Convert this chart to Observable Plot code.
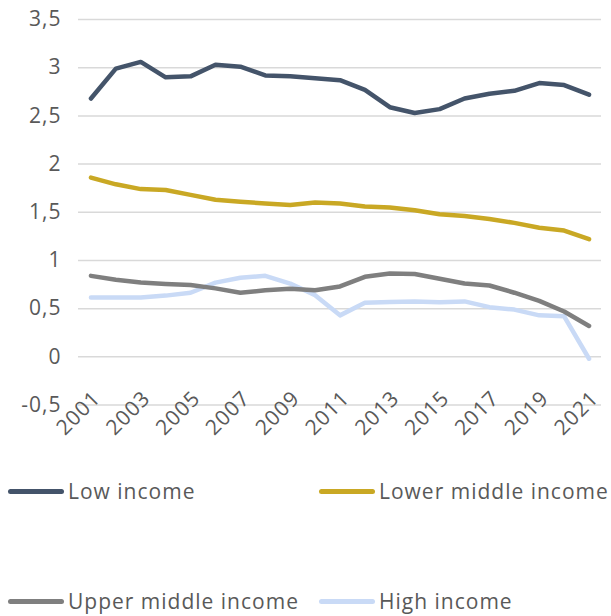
<!DOCTYPE html>
<html>
<head>
<meta charset="utf-8">
<script src="https://cdn.jsdelivr.net/npm/d3@7"></script>
<script src="https://cdn.jsdelivr.net/npm/@observablehq/plot@0.6"></script>
<style>
  html, body { margin: 0; padding: 0; background: #fff; }
  #wrap { position: relative; width: 611px; height: 616px; font-family: "Open Sans", sans-serif; }
  .leg { position: absolute; display: flex; align-items: center; font-size: 21px; letter-spacing: 1px; color: #595959; white-space: nowrap; }
  .sw { width: 56px; height: 5px; border-radius: 3px; margin-right: 4px; }
</style>
</head>
<body>
<div id="wrap"></div>
<script>
const years = d3.range(2001, 2022);
const seriesNames = ["Low income", "Lower middle income", "Upper middle income", "High income"];
const colors = ["#44546A", "#C9A824", "#7F7F7F", "#C9DAF6"];
const lowIncome = [2.68, 2.99, 3.06, 2.90, 2.91, 3.03, 3.01, 2.92, 2.91, 2.89, 2.87, 2.77, 2.59, 2.53, 2.57, 2.68, 2.73, 2.76, 2.84, 2.82, 2.72];
const lowerMiddle = [1.86, 1.79, 1.74, 1.73, 1.68, 1.63, 1.61, 1.59, 1.575, 1.60, 1.59, 1.56, 1.55, 1.52, 1.48, 1.46, 1.43, 1.39, 1.34, 1.31, 1.22];
const upperMiddle = [0.84, 0.80, 0.77, 0.755, 0.745, 0.71, 0.665, 0.69, 0.705, 0.69, 0.73, 0.83, 0.865, 0.86, 0.81, 0.76, 0.74, 0.665, 0.58, 0.47, 0.32];
const highIncome = [0.615, 0.615, 0.615, 0.635, 0.665, 0.77, 0.82, 0.84, 0.76, 0.64, 0.43, 0.56, 0.57, 0.575, 0.565, 0.575, 0.515, 0.49, 0.43, 0.42, -0.02];
const yTicks = [-0.5, 0, 0.5, 1, 1.5, 2, 2.5, 3, 3.5];
const xLabels = [2001, 2003, 2005, 2007, 2009, 2011, 2013, 2015, 2017, 2019, 2021];

const allSeries = [lowIncome, lowerMiddle, upperMiddle, highIncome];
const rows = [];
allSeries.forEach((vals, i) => vals.forEach((v, j) => rows.push({series: seriesNames[i], year: years[j], value: v})));
const drawOrder = ["High income", "Upper middle income", "Lower middle income", "Low income"];

const fmt = v => String(v).replace(".", ",");
const H = 440;
const chart = Plot.plot({
  width: 611,
  height: H,
  marginLeft: 78,
  marginRight: 10,
  marginTop: 19,
  marginBottom: H - 404.5,
  style: {fontFamily: "Open Sans, sans-serif", background: "#fff", letterSpacing: "1px"},
  x: {domain: [2000.5, 2021.5], axis: null},
  y: {domain: [-0.5, 3.5], axis: null},
  color: {domain: seriesNames, range: colors},
  marks: [
    Plot.ruleY(yTicks, {stroke: "#d9d9d9", strokeWidth: 1.5}),
    Plot.axisY(yTicks, {tickSize: 0, tickPadding: 17, tickFormat: fmt, fontSize: 21, fill: "#595959", label: null}),
    ...drawOrder.map(name => Plot.line(rows.filter(r => r.series === name), {
      x: "year", y: "value", stroke: colors[seriesNames.indexOf(name)],
      strokeWidth: 4.5, strokeLinecap: "round", strokeLinejoin: "round"
    })),
    Plot.text(xLabels, {x: d => d, y: 0, text: d => String(d), rotate: -45, textAnchor: "end",
      dx: 6, dy: 38, fontSize: 21, fill: "#595959"})
  ]
});
const wrap = document.getElementById("wrap");
wrap.appendChild(chart);

const legPos = [[8, 491], [319, 491], [8, 601], [319, 601]];
seriesNames.forEach((name, i) => {
  const d = document.createElement("div");
  d.className = "leg";
  d.style.left = legPos[i][0] + "px";
  d.style.top = (legPos[i][1] - 14) + "px";
  d.style.height = "28px";
  const s = document.createElement("span");
  s.className = "sw";
  s.style.background = colors[i];
  const t = document.createElement("span");
  t.textContent = name;
  d.appendChild(s); d.appendChild(t);
  wrap.appendChild(d);
});
</script>
</body>
</html>
